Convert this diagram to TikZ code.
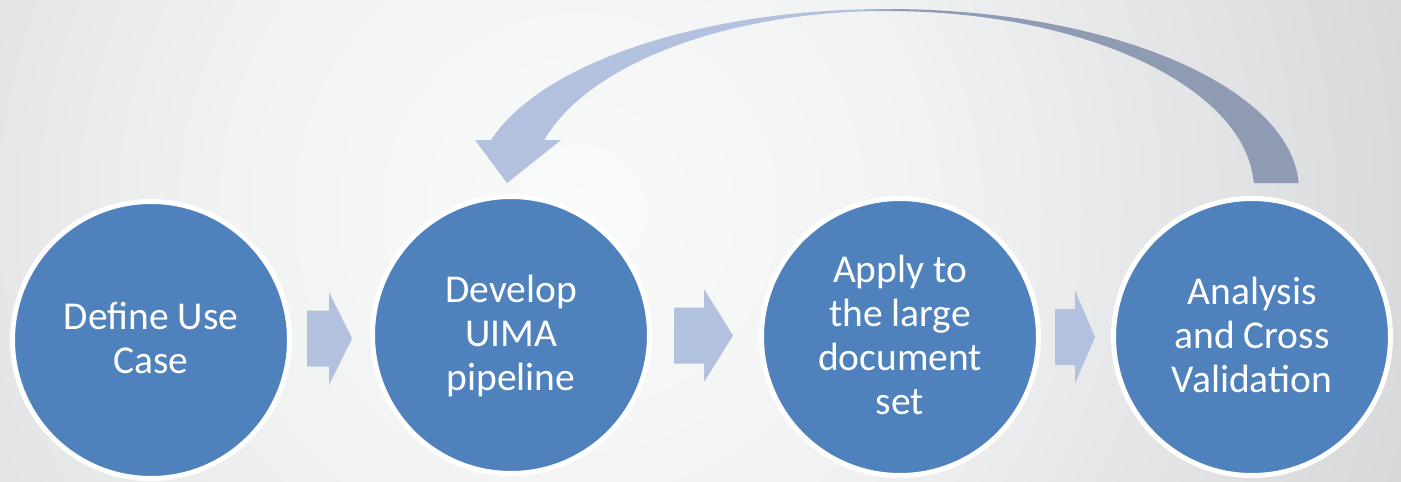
\documentclass[tikz,border=0pt]{standalone}
\usepackage{fontspec}
\setmainfont{Carlito}
\usetikzlibrary{calc}

\definecolor{circblue}{HTML}{4F81BD}
\definecolor{flowfill}{HTML}{B2C2DE}
\definecolor{looplight}{HTML}{B1C1DE}
\definecolor{loopdark}{HTML}{8E9BB3}
\definecolor{bgcore}{HTML}{F9FAFA}
\definecolor{bgmid}{HTML}{F1F2F2}
\definecolor{bgsoft}{HTML}{E6E7E8}
\definecolor{bgedge}{HTML}{D5D7D9}

% soft light spot for the backdrop (25bp = edge of the shaded circle)
\pgfdeclareradialshading{bgglow}{\pgfpoint{0bp}{0bp}}{color(0bp)=(bgcore); color(10bp)=(bgmid); color(16.25bp)=(bgsoft); color(25bp)=(bgedge); color(50bp)=(bgedge)}
% light left half, darker right half of the return arrow
\pgfdeclarehorizontalshading{loopshade}{100bp}{color(0bp)=(looplight); color(48.4bp)=(looplight); color(50.8bp)=(loopdark); color(100bp)=(loopdark)}

% equal line boxes so the text blocks centre like slide text
\newcommand\linestrut{\rule[-11pt]{0pt}{44pt}}

\begin{document}
\begin{tikzpicture}[x=1pt,y=-1pt,
  stage/.style={circle, fill=circblue, draw=white, line width=5pt,
    minimum size=277pt, inner sep=0pt, text=white, align=center,
    font=\fontsize{39.5}{44}\selectfont},
  pics/blockarrow/.style 2 args={code={
    \fill[flowfill] (0,-28) -- ({#1-#2},-28) -- ({#1-#2},-46.5) -- (#1,0)
      -- ({#1-#2},46.5) -- ({#1-#2},28) -- (0,28) -- cycle;}}]

\useasboundingbox (0,0) rectangle (1401,482);

% backdrop
\begin{scope}
  \clip (0,0) rectangle (1401,482);
  \fill[bgedge] (0,0) rectangle (1401,482);
  \shade[shading=bgglow] (580,210) circle[radius=880];
\end{scope}

% process stages
\node[stage] (s1) at (151,340) {\linestrut Define Use\\\linestrut Case};
\node[stage] (s2) at (511,335) {\linestrut Develop\\\linestrut UIMA\\\linestrut pipeline};
\node[stage] (s3) at (900,337) {\linestrut Apply to\\\linestrut the large\\\linestrut document\\\linestrut set};
\node[stage] (s4) at (1252,337) {\linestrut Analysis\\\linestrut and Cross\\\linestrut Validation};

% block arrows between the stages
\pic at (307,338.5) {blockarrow={45}{23}};
\pic at (674,335.5) {blockarrow={59}{29}};
\pic at (1055,337) {blockarrow={40}{20}};

% return arrow from the last stage back to the pipeline
\coordinate (loopc) at (887,190);
\shade[shading=loopshade]
  ($(loopc)+(-2.2:412 and 181)$)
    arc[start angle=-2.2, end angle=-164, x radius=412, y radius=181]
  -- (475,140) -- (507,183) -- (561,140)
  -- ($(loopc)+(-163.8:357 and 179)$)
    arc[start angle=-163.8, end angle=-90, x radius=357, y radius=179]
    arc[start angle=-90, end angle=-2.24, x radius=367, y radius=179]
  -- cycle;

\end{tikzpicture}
\end{document}
